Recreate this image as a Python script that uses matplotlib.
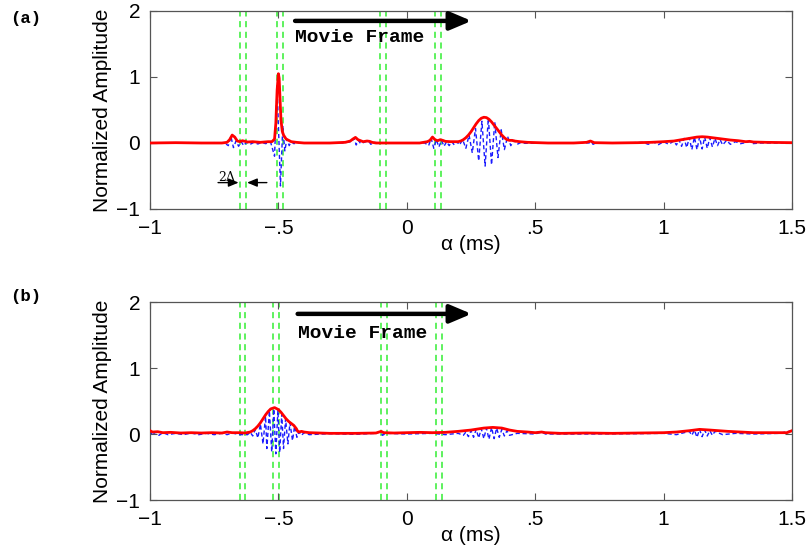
import matplotlib
matplotlib.use("Agg")
import matplotlib.pyplot as plt

# ---------------- data ----------------
# (a) envelope (red) and raw signal (blue), time in ms
env_a = [(-1.0, 0.0), (-0.90, 0.005), (-0.80, 0.0), (-0.72, 0.0), (-0.70, 0.01), (-0.69, 0.05),
         (-0.68, 0.12), (-0.67, 0.09), (-0.66, 0.03), (-0.65, 0.02), (-0.64, 0.035), (-0.62, 0.015),
         (-0.60, 0.02), (-0.57, 0.01), (-0.54, 0.02), (-0.525, 0.02), (-0.515, 0.06), (-0.51, 0.3),
         (-0.505, 0.8), (-0.500, 1.05), (-0.497, 0.98), (-0.494, 0.7), (-0.49, 0.35), (-0.485, 0.18),
         (-0.48, 0.12), (-0.475, 0.09), (-0.47, 0.06), (-0.46, 0.04), (-0.45, 0.02), (-0.43, 0.01),
         (-0.40, 0.0), (-0.30, 0.0), (-0.24, 0.01), (-0.22, 0.03), (-0.21, 0.06), (-0.20, 0.085),
         (-0.19, 0.05), (-0.17, 0.02), (-0.155, 0.03), (-0.145, 0.025), (-0.135, 0.01), (-0.12, 0.0),
         (-0.05, 0.0), (0.05, 0.0), (0.08, 0.02), (0.09, 0.04), (0.10, 0.09), (0.11, 0.05),
         (0.12, 0.035), (0.13, 0.05), (0.14, 0.04), (0.15, 0.025), (0.17, 0.02), (0.20, 0.02),
         (0.21, 0.03), (0.22, 0.05), (0.23, 0.08), (0.24, 0.12), (0.25, 0.17), (0.26, 0.23),
         (0.27, 0.29), (0.28, 0.34), (0.29, 0.375), (0.30, 0.39), (0.31, 0.385), (0.32, 0.36),
         (0.33, 0.32), (0.34, 0.27), (0.35, 0.22), (0.36, 0.17), (0.37, 0.12), (0.38, 0.08),
         (0.39, 0.05), (0.40, 0.04), (0.41, 0.04), (0.42, 0.03), (0.44, 0.02), (0.47, 0.01),
         (0.55, 0.0), (0.65, 0.0), (0.70, 0.01), (0.715, 0.03), (0.73, 0.005), (0.80, 0.0),
         (0.90, 0.005), (0.95, 0.01), (1.00, 0.02), (1.04, 0.03), (1.07, 0.05), (1.10, 0.07),
         (1.13, 0.09), (1.15, 0.095), (1.17, 0.09), (1.20, 0.075), (1.23, 0.06), (1.26, 0.045),
         (1.29, 0.035), (1.32, 0.02), (1.335, 0.025), (1.35, 0.015), (1.40, 0.01), (1.50, 0.005)]

sig_a = [(-1.0, 0.0), (-0.95, 0.005), (-0.90, -0.005), (-0.85, 0.005), (-0.80, -0.005), (-0.75, 0.005),
         (-0.71, 0.0), (-0.695, -0.04), (-0.685, 0.10), (-0.675, -0.07), (-0.665, 0.03), (-0.655, -0.05),
         (-0.645, 0.02), (-0.635, -0.04), (-0.625, 0.01), (-0.61, -0.02), (-0.595, 0.01), (-0.58, -0.015),
         (-0.565, 0.01), (-0.55, -0.01), (-0.53, 0.01), (-0.515, -0.2), (-0.505, 0.85), (-0.492, -0.65),
         (-0.483, 0.25), (-0.475, -0.12), (-0.467, 0.06), (-0.458, -0.04), (-0.45, 0.02), (-0.44, -0.01),
         (-0.42, 0.005), (-0.35, 0.0), (-0.30, 0.005), (-0.25, 0.0), (-0.215, 0.02), (-0.205, 0.07),
         (-0.197, -0.03), (-0.188, 0.04), (-0.18, -0.01), (-0.16, 0.02), (-0.148, 0.025), (-0.14, -0.02),
         (-0.13, 0.01), (-0.10, 0.0), (0.0, 0.0), (0.07, 0.0), (0.085, -0.04), (0.095, 0.07),
         (0.105, -0.08), (0.115, 0.05), (0.125, -0.06), (0.135, 0.04), (0.145, -0.05), (0.155, 0.02),
         (0.165, -0.04), (0.175, 0.02), (0.185, -0.03), (0.195, 0.02), (0.205, -0.03), (0.2175, 0.05),
         (0.23, -0.08), (0.2425, 0.12), (0.255, -0.15), (0.2675, 0.22), (0.28, -0.27), (0.2925, 0.33),
         (0.305, -0.35), (0.3175, 0.38), (0.33, -0.33), (0.3425, 0.32), (0.355, -0.22), (0.3675, 0.2),
         (0.38, -0.1), (0.3925, 0.1), (0.405, -0.04), (0.4175, 0.04), (0.43, -0.02), (0.445, 0.01),
         (0.46, -0.005), (0.55, 0.0), (0.65, 0.005), (0.71, 0.0), (0.718, 0.03), (0.725, -0.02),
         (0.74, 0.0), (0.85, 0.0), (0.92, 0.01), (0.94, -0.02), (0.96, 0.015), (0.98, -0.025),
         (1.00, 0.02), (1.02, -0.02), (1.04, 0.03), (1.05, -0.03), (1.06, 0.05), (1.07, -0.05),
         (1.08, 0.07), (1.09, -0.07), (1.10, 0.08), (1.11, -0.10), (1.12, 0.09), (1.13, -0.10),
         (1.14, 0.09), (1.15, -0.09), (1.16, 0.09), (1.17, -0.08), (1.18, 0.08), (1.19, -0.06),
         (1.20, 0.07), (1.21, -0.04), (1.22, 0.05), (1.23, -0.03), (1.245, 0.04), (1.26, -0.02),
         (1.28, 0.02), (1.30, -0.01), (1.325, 0.01), (1.335, 0.025), (1.345, -0.01), (1.38, 0.0),
         (1.45, 0.0), (1.50, 0.0)]

# (b) envelope (red) and raw signal (blue)
env_b = [(-1.0, 0.05), (-0.99, 0.03), (-0.97, 0.035), (-0.95, 0.02), (-0.92, 0.025), (-0.88, 0.015),
         (-0.84, 0.02), (-0.80, 0.015), (-0.76, 0.02), (-0.72, 0.015), (-0.70, 0.03), (-0.68, 0.02),
         (-0.65, 0.02), (-0.63, 0.015), (-0.61, 0.03), (-0.60, 0.05), (-0.59, 0.08), (-0.58, 0.12),
         (-0.57, 0.17), (-0.56, 0.23), (-0.55, 0.29), (-0.54, 0.34), (-0.53, 0.38), (-0.515, 0.40),
         (-0.50, 0.37), (-0.49, 0.33), (-0.48, 0.28), (-0.47, 0.23), (-0.46, 0.19), (-0.45, 0.16),
         (-0.44, 0.13), (-0.43, 0.08), (-0.425, 0.04), (-0.42, 0.03), (-0.41, 0.04), (-0.40, 0.03),
         (-0.38, 0.02), (-0.30, 0.01), (-0.20, 0.01), (-0.12, 0.015), (-0.10, 0.04), (-0.09, 0.02),
         (-0.05, 0.015), (0.0, 0.02), (0.05, 0.025), (0.10, 0.02), (0.15, 0.025), (0.20, 0.04),
         (0.25, 0.06), (0.30, 0.09), (0.335, 0.10), (0.37, 0.09), (0.40, 0.06), (0.43, 0.04),
         (0.47, 0.03), (0.50, 0.02), (0.525, 0.03), (0.54, 0.02), (0.60, 0.01), (0.70, 0.015),
         (0.80, 0.01), (0.90, 0.015), (1.00, 0.02), (1.05, 0.03), (1.10, 0.05), (1.14, 0.07),
         (1.18, 0.06), (1.25, 0.04), (1.30, 0.03), (1.35, 0.02), (1.42, 0.02), (1.48, 0.02),
         (1.50, 0.05)]

sig_b = [(-1.0, 0.05), (-0.99, -0.02), (-0.98, 0.03), (-0.965, -0.02), (-0.95, 0.02), (-0.93, -0.01),
         (-0.90, 0.01), (-0.87, -0.01), (-0.84, 0.015), (-0.81, -0.01), (-0.78, 0.01), (-0.75, -0.01),
         (-0.72, 0.01), (-0.70, -0.01), (-0.68, 0.015), (-0.65, -0.01), (-0.62, -0.01), (-0.61, 0.03),
         (-0.60, -0.03), (-0.59, 0.07), (-0.58, -0.06), (-0.57, 0.15), (-0.56, -0.15), (-0.55, 0.27),
         (-0.545, -0.22), (-0.535, 0.35), (-0.526, -0.27), (-0.518, 0.38), (-0.51, -0.30), (-0.502, 0.36),
         (-0.495, -0.28), (-0.487, 0.30), (-0.48, -0.22), (-0.472, 0.23), (-0.463, -0.15), (-0.455, 0.17),
         (-0.445, -0.10), (-0.437, 0.12), (-0.428, -0.05), (-0.42, 0.03), (-0.41, -0.02), (-0.40, 0.02),
         (-0.38, -0.01), (-0.30, 0.005), (-0.20, -0.005), (-0.12, 0.01), (-0.10, 0.04), (-0.095, -0.02),
         (-0.08, 0.01), (0.0, 0.0), (0.10, 0.01), (0.15, -0.01), (0.20, 0.01), (0.22, -0.02),
         (0.23, 0.03), (0.24, -0.04), (0.25, 0.05), (0.26, -0.05), (0.27, 0.07), (0.28, -0.06),
         (0.29, 0.08), (0.30, -0.07), (0.31, 0.09), (0.32, -0.08), (0.33, 0.10), (0.34, -0.07),
         (0.35, 0.09), (0.36, -0.05), (0.37, 0.07), (0.38, -0.03), (0.39, 0.05), (0.40, -0.02),
         (0.43, 0.01), (0.50, 0.0), (0.525, 0.03), (0.54, 0.0), (0.70, 0.0), (0.90, 0.005),
         (1.00, 0.01), (1.05, -0.01), (1.08, 0.02), (1.10, 0.04), (1.11, -0.02), (1.12, 0.06),
         (1.13, -0.05), (1.14, 0.07), (1.15, -0.04), (1.16, 0.06), (1.17, -0.03), (1.18, 0.05),
         (1.19, -0.02), (1.20, 0.04), (1.23, -0.01), (1.28, 0.01), (1.35, 0.0), (1.45, 0.01),
         (1.50, 0.05)]

# window edges (green dashed pairs)
gates_a = [-0.649, -0.628, -0.504, -0.483, -0.104, -0.081, 0.109, 0.132]
gates_b = [-0.649, -0.629, -0.520, -0.499, -0.099, -0.076, 0.114, 0.137]

x_ticks = [-1, -0.5, 0, 0.5, 1, 1.5]
x_ticklabels = ["\u22121", "\u2212.5", "0", ".5", "1", "1.5"]
y_ticks = [-1, 0, 1, 2]
y_ticklabels = ["\u22121", "0", "1", "2"]

# ---------------- figure ----------------
plt.rcParams["font.family"] = ["Liberation Sans", "DejaVu Sans"]
fig = plt.figure(figsize=(8.1, 5.52), dpi=100)

W, H = 810.0, 552.0
ax_a = fig.add_axes([150 / W, 1 - 209 / H, 642 / W, 198 / H])
ax_b = fig.add_axes([150 / W, 1 - 500 / H, 642 / W, 198 / H])

spine_col = "#555555"


def draw_panel(ax, env, sig, gates, arrow_y, text_x, text_y):
    for g in gates:
        ax.axvline(g, color="#33ee33", lw=1.1, ls=(0, (4, 3)), zorder=1)
    st, sv = zip(*sig)
    ax.plot(st, sv, color="#1a1aff", lw=1.0, ls=(0, (3, 2)), zorder=2)
    et, ev = zip(*env)
    ax.plot(et, ev, color="#ff0000", lw=2.0, zorder=3)

    ax.set_xlim(-1, 1.5)
    ax.set_ylim(-1, 2)
    ax.set_xticks(x_ticks)
    ax.set_xticklabels(x_ticklabels)
    ax.set_yticks(y_ticks)
    ax.set_yticklabels(y_ticklabels)
    ax.tick_params(direction="in", top=True, right=True, length=5, width=0.8,
                   color=spine_col, labelsize=15)
    ax.tick_params(axis="x", pad=7)
    ax.tick_params(axis="y", pad=7)
    for s in ax.spines.values():
        s.set_color(spine_col)
        s.set_linewidth(0.9)
    ax.set_xlabel("\u03b1 (ms)", fontsize=15, labelpad=-2)
    ax.set_ylabel("Normalized Amplitude", fontsize=15, labelpad=3)

    ax.annotate("", xy=(0.252, arrow_y), xytext=(text_x, arrow_y),
                arrowprops=dict(arrowstyle="-|>,head_length=1.3,head_width=0.55",
                                lw=3.2, color="black", shrinkA=0, shrinkB=0),
                zorder=5)
    ax.text(text_x, text_y, "Movie Frame", family="Liberation Mono", weight="bold",
            fontsize=14, va="center", ha="left", zorder=5)


draw_panel(ax_a, env_a, sig_a, gates_a, 1.85, -0.435, 1.60)
draw_panel(ax_b, env_b, sig_b, gates_b, 1.82, -0.425, 1.52)

# gate width marker in panel (a)
ax_a.annotate("", xy=(-0.655, -0.60), xytext=(-0.735, -0.60),
              arrowprops=dict(arrowstyle="-|>,head_length=0.6,head_width=0.25",
                              lw=1.0, color="black", shrinkA=0, shrinkB=0))
ax_a.annotate("", xy=(-0.622, -0.60), xytext=(-0.545, -0.60),
              arrowprops=dict(arrowstyle="-|>,head_length=0.6,head_width=0.25",
                              lw=1.0, color="black", shrinkA=0, shrinkB=0))
ax_a.text(-0.733, -0.52, "2\u0394", family="DejaVu Serif", fontsize=9,
          ha="left", va="center")

fig.text(10 / W, 1 - 18 / H, "(a)", family="Liberation Mono", weight="bold",
         fontsize=12.5, va="center", ha="left")
fig.text(10 / W, 1 - 297 / H, "(b)", family="Liberation Mono", weight="bold",
         fontsize=12.5, va="center", ha="left")

fig.savefig("out.png", dpi=100)
